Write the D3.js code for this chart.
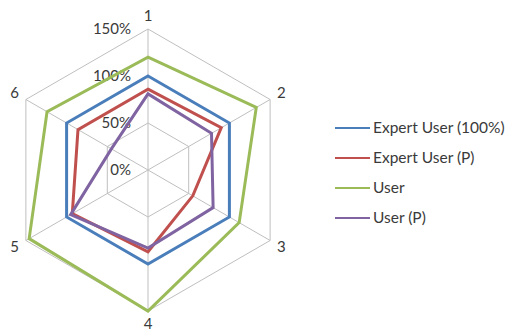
<!DOCTYPE html>
<html><head><meta charset="utf-8">
<script src="https://cdn.jsdelivr.net/npm/d3@7"></script>
<style>body{margin:0;background:#fff;} text{font-family:Lato,"Open Sans",sans-serif;fill:#3a3a3a;}</style>
</head><body>
<svg id="c" width="506" height="335"></svg>
<script>
const categories = ["1","2","3","4","5","6"];
const seriesNames = ["Expert User (100%)","Expert User (P)","User","User (P)"];
const expertUser100 = [1.00, 1.00, 1.00, 1.00, 1.00, 1.00];
const expertUserP   = [0.86, 0.90, 0.55, 0.87, 0.93, 0.86];
const userValues    = [1.20, 1.33, 1.12, 1.50, 1.46, 1.24];
const userP         = [0.81, 0.78, 0.80, 0.83, 0.95, 0.45];
const tickValues = [0, 0.5, 1.0, 1.5];
const tickLabels = ["0%","50%","100%","150%"];
const colors = ["#4A7EBB","#C0504D","#9BBB59","#8064A2"];

const svg = d3.select("#c");
const cx = 148, cy = 170, R = 141;
const r = d3.scaleLinear().domain([0, 1.5]).range([0, R]);
const ang = d3.scalePoint().domain(categories).range([0, 2*Math.PI*5/6]);
const pt = (c, v) => { const a = ang(c); return [cx + r(v)*Math.sin(a), cy - r(v)*Math.cos(a)]; };

const g = svg.append("g");
// grid rings
tickValues.filter(t => t > 0).forEach(t => {
  g.append("path")
    .attr("d", d3.line()(categories.map(c => pt(c, t))) + "Z")
    .attr("fill","none").attr("stroke","#bfbfbf").attr("stroke-width",1);
});
// spokes
categories.forEach(c => {
  const p = pt(c, 1.5);
  g.append("line").attr("x1",cx).attr("y1",cy).attr("x2",p[0]).attr("y2",p[1])
    .attr("stroke","#bfbfbf").attr("stroke-width",1);
});
// tick labels
tickValues.forEach((t,i) => {
  g.append("text").attr("x", cx-17).attr("y", cy - r(t)).attr("dy","0.35em")
    .attr("text-anchor","end").attr("font-size",15).text(tickLabels[i]);
});
// category labels
categories.forEach(c => {
  const a = ang(c), p = pt(c, 1.5);
  const s = Math.sin(a), co = Math.cos(a);
  let anchor = Math.abs(s) < 0.01 ? "middle" : (s > 0 ? "start" : "end");
  const x = p[0] + s*8, y = p[1] - co*13;
  g.append("text").attr("x", x).attr("y", y).attr("dy","0.35em")
    .attr("text-anchor", anchor).attr("font-size",15).text(c);
});
// series
const data = [expertUser100, expertUserP, userValues, userP];
const line = d3.line().curve(d3.curveLinearClosed);
data.forEach((vals, i) => {
  g.append("path").attr("d", line(categories.map((c,j) => pt(c, vals[j]))))
    .attr("fill","none").attr("stroke", colors[i]).attr("stroke-width",3)
    .attr("stroke-linejoin","miter");
});
// legend
const lg = svg.append("g").attr("transform","translate(335,128)");
seriesNames.forEach((n,i) => {
  const y = i*30;
  lg.append("line").attr("x1",0).attr("x2",35).attr("y1",y).attr("y2",y)
    .attr("stroke",colors[i]).attr("stroke-width",2);
  lg.append("text").attr("x",38).attr("y",y).attr("dy","0.35em").attr("font-size",15.5).text(n);
});
</script>
</body></html>
